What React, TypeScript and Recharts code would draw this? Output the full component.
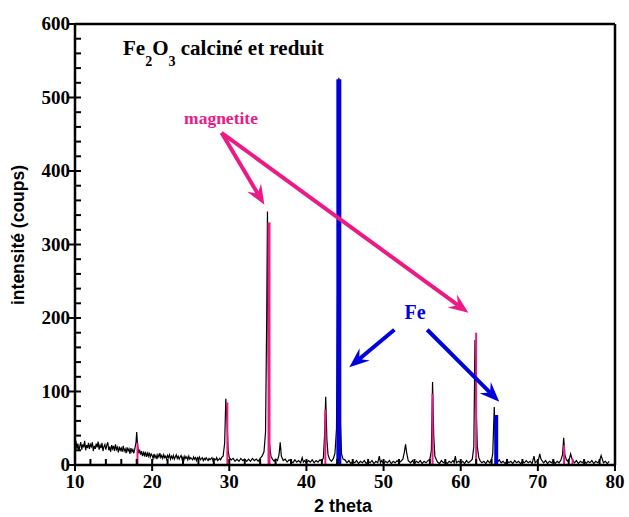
import React from 'react';
import { ComposedChart, Line, XAxis, YAxis, ReferenceLine } from 'recharts';

if (typeof document !== 'undefined') document.body.style.margin = '0';

// measured pattern, [2theta, counts], split by decade
const scan10to20: [number, number][] = [
  [10.0, 27], [10.125, 33], [10.25, 22], [10.375, 29], [10.5, 19], [10.625, 26], [10.75, 31], [10.875, 21],
  [11.0, 28], [11.125, 24], [11.25, 33], [11.375, 20], [11.5, 27], [11.625, 23], [11.75, 30], [11.875, 22],
  [12.0, 28], [12.125, 25], [12.25, 31], [12.375, 19], [12.5, 26], [12.625, 22], [12.75, 29], [12.875, 24],
  [13.0, 32], [13.125, 21], [13.25, 27], [13.375, 23], [13.5, 30], [13.625, 19], [13.75, 25], [13.875, 28],
  [14.0, 21], [14.125, 27], [14.25, 31], [14.375, 20], [14.5, 25], [14.625, 18], [14.75, 27], [14.875, 22],
  [15.0, 26], [15.125, 19], [15.25, 28], [15.375, 21], [15.5, 24], [15.625, 17], [15.75, 25], [15.875, 20],
  [16.0, 23], [16.125, 18], [16.25, 26], [16.375, 19], [16.5, 22], [16.625, 16], [16.75, 24], [16.875, 19],
  [17.0, 22], [17.125, 15], [17.25, 23], [17.375, 18], [17.5, 21], [17.625, 16], [17.75, 22], [17.9, 30],
  [18.0, 45], [18.1, 28], [18.25, 16], [18.375, 21], [18.5, 14], [18.625, 19], [18.75, 12], [18.875, 17],
  [19.0, 13], [19.125, 18], [19.25, 11], [19.375, 16], [19.5, 12], [19.625, 17], [19.75, 11], [19.875, 15],
];
const scan20to30: [number, number][] = [
  [20.0, 13], [20.125, 9], [20.25, 15], [20.375, 10], [20.5, 13], [20.625, 8], [20.75, 14], [20.875, 11],
  [21.0, 16], [21.125, 10], [21.25, 13], [21.375, 9], [21.5, 14], [21.625, 10], [21.75, 12], [21.875, 8],
  [22.0, 13], [22.125, 10], [22.25, 14], [22.375, 8], [22.5, 12], [22.625, 9], [22.75, 13], [22.875, 8],
  [23.0, 11], [23.125, 14], [23.25, 9], [23.375, 12], [23.5, 8], [23.625, 11], [23.75, 13], [23.875, 8],
  [24.0, 11], [24.125, 7], [24.25, 12], [24.375, 9], [24.5, 11], [24.625, 7], [24.75, 12], [24.875, 8],
  [25.0, 10], [25.25, 7], [25.375, 11], [25.5, 8], [25.625, 10], [25.75, 6], [25.875, 10], [26.0, 8],
  [26.125, 11], [26.25, 7], [26.5, 10], [26.625, 6], [26.75, 9], [26.875, 7], [27.0, 10], [27.25, 6],
  [27.375, 9], [27.5, 7], [27.75, 10], [27.875, 6], [28.0, 9], [28.25, 7], [28.375, 10], [28.5, 6],
  [28.75, 9], [28.875, 7], [29.0, 10], [29.2, 12], [29.4, 30], [29.55, 90], [29.7, 60], [29.85, 20],
];
const scan30to40: [number, number][] = [
  [30.0, 10], [30.25, 7], [30.5, 9], [30.75, 5], [31.0, 8], [31.25, 5], [31.5, 9], [31.75, 6],
  [32.0, 8], [32.25, 5], [32.5, 8], [32.75, 5], [33.0, 9], [33.25, 6], [33.5, 8], [33.75, 5],
  [34.0, 9], [34.25, 12], [34.5, 18], [34.7, 45], [34.85, 200], [34.95, 345], [35.05, 150], [35.2, 30],
  [35.4, 12], [35.6, 8], [35.8, 5], [36.0, 8], [36.25, 6], [36.45, 14], [36.6, 31], [36.75, 12],
  [37.0, 6], [37.25, 8], [37.5, 4], [37.75, 7], [38.0, 5], [38.25, 3], [38.5, 7], [38.75, 4],
  [39.0, 6], [39.25, 3], [39.45, 10], [39.6, 4], [39.75, 6],
];
const scan40to50: [number, number][] = [
  [40.0, 3], [40.25, 6], [40.5, 4], [40.75, 7], [41.0, 3], [41.25, 6], [41.5, 4], [41.75, 7],
  [42.0, 5], [42.2, 10], [42.35, 40], [42.5, 93], [42.65, 35], [42.8, 14], [43.0, 8], [43.25, 5],
  [43.5, 9], [43.7, 16], [43.9, 50], [44.05, 250], [44.2, 527], [44.3, 300], [44.4, 60], [44.55, 15],
  [44.75, 8], [45.0, 7], [45.25, 3], [45.5, 6], [45.75, 2], [46.0, 5], [46.25, 3], [46.5, 6],
  [46.75, 2], [47.0, 5], [47.25, 3], [47.5, 6], [47.75, 2], [48.0, 5], [48.25, 3], [48.5, 6],
  [48.75, 2], [49.0, 5], [49.25, 3], [49.45, 12], [49.6, 3], [49.75, 6],
];
const scan50to60: [number, number][] = [
  [50.0, 2], [50.25, 5], [50.5, 3], [50.75, 6], [51.0, 2], [51.25, 5], [51.5, 3], [51.75, 6],
  [52.0, 3], [52.25, 5], [52.5, 8], [52.7, 18], [52.85, 28], [53.0, 16], [53.2, 6], [53.5, 3],
  [53.75, 6], [54.0, 2], [54.25, 5], [54.5, 3], [54.75, 6], [55.0, 2], [55.25, 5], [55.5, 3],
  [55.75, 6], [56.0, 8], [56.2, 20], [56.35, 113], [56.5, 40], [56.65, 12], [56.85, 7], [57.0, 4],
  [57.25, 2], [57.5, 6], [57.75, 3], [58.0, 5], [58.25, 2], [58.5, 5], [58.75, 3], [59.0, 6],
  [59.15, 3], [59.3, 12], [59.45, 3], [59.75, 5],
];
const scan60to70: [number, number][] = [
  [60.0, 3], [60.25, 5], [60.5, 2], [60.75, 6], [61.0, 3], [61.25, 5], [61.5, 8], [61.7, 25],
  [61.85, 170], [62.0, 80], [62.15, 25], [62.35, 10], [62.5, 6], [62.75, 3], [63.0, 5], [63.25, 2],
  [63.5, 6], [63.75, 3], [64.0, 7], [64.15, 15], [64.35, 79], [64.5, 30], [64.65, 10], [64.85, 5],
  [65.0, 7], [65.25, 3], [65.5, 5], [65.75, 2], [66.0, 6], [66.25, 3], [66.5, 5], [66.75, 2],
  [67.0, 6], [67.25, 3], [67.5, 5], [67.75, 2], [68.0, 5], [68.25, 3], [68.5, 6], [68.75, 3],
  [69.0, 5], [69.25, 2], [69.5, 12], [69.65, 3], [69.85, 5],
];
const scan70to80: [number, number][] = [
  [70.1, 8], [70.25, 15], [70.4, 8], [70.6, 5], [70.75, 3], [71.0, 6], [71.25, 2], [71.5, 5],
  [71.75, 3], [72.0, 6], [72.25, 2], [72.5, 5], [72.75, 3], [73.0, 7], [73.2, 14], [73.35, 37],
  [73.5, 14], [73.7, 7], [73.9, 5], [74.1, 9], [74.25, 15], [74.4, 9], [74.6, 5], [74.75, 3],
  [75.0, 6], [75.25, 2], [75.5, 5], [75.75, 3], [76.0, 6], [76.25, 2], [76.5, 5], [76.75, 3],
  [77.0, 6], [77.25, 2], [77.5, 5], [77.75, 3], [78.0, 6], [78.2, 13], [78.35, 8], [78.5, 3],
  [78.75, 5], [79.0, 2], [79.25, 5],
];

// reference sticks
const magnetiteAngles = [18.1, 29.75, 35.15, 42.45, 56.35, 62.0, 73.4, 74.5];
const magnetiteCounts = [30, 85, 330, 75, 97, 180, 27, 8];
const ironAngles = [44.2, 64.6];
const ironCounts = [525, 68];

const xTicks = [10, 12, 14, 16, 18, 20, 22, 24, 26, 28, 30, 32, 34, 36, 38, 40, 42, 44, 46, 48, 50,
  52, 54, 56, 58, 60, 62, 64, 66, 68, 70, 72, 74, 76, 78, 80];
const yTicks = [0, 20, 40, 60, 80, 100, 120, 140, 160, 180, 200, 220, 240, 260, 280, 300, 320, 340,
  360, 380, 400, 420, 440, 460, 480, 500, 520, 540, 560, 580, 600];

const PINK = '#ec1a85';
const BLUE = '#0000dd';
const SERIF = '"Liberation Serif", "Times New Roman", serif';
const SANS = '"Liberation Sans", Arial, sans-serif';

const pattern = [
  ...scan10to20, ...scan20to30, ...scan30to40, ...scan40to50,
  ...scan50to60, ...scan60to70, ...scan70to80,
].map(([angle, count]) => ({ angle, count }));

function XTick(props: any) {
  const { x, y, payload } = props;
  const v = payload.value;
  const major = v % 10 === 0;
  return (
    <g>
      <line x1={x} x2={x} y1={major ? y + 6 : y} y2={y - 6} stroke="#000" strokeWidth={2} />
      {major && (
        <text x={x} y={y + 23} textAnchor="middle" fontFamily={SERIF} fontWeight="bold" fontSize={19} fill="#000">
          {v}
        </text>
      )}
    </g>
  );
}

function YTick(props: any) {
  const { x, y, payload } = props;
  const v = payload.value;
  const major = v % 100 === 0;
  return (
    <g>
      <line x1={major ? x - 6 : x} x2={x + 6} y1={y} y2={y} stroke="#000" strokeWidth={2} />
      {major && (
        <text x={x - 5} y={y + 6} textAnchor="end" fontFamily={SERIF} fontWeight="bold" fontSize={19} fill="#000">
          {v}
        </text>
      )}
    </g>
  );
}

// line with a barbed head at its second point
function arrowShape(color: string) {
  return (props: any) => {
    const { x1, y1, x2, y2 } = props;
    if ([x1, y1, x2, y2].some((n) => typeof n !== 'number' || isNaN(n))) return <g />;
    const len = Math.hypot(x2 - x1, y2 - y1);
    const dx = (x2 - x1) / len;
    const dy = (y2 - y1) / len;
    const L = 20;
    const W = 8;
    const bx = x2 - L * dx;
    const by = y2 - L * dy;
    const nx = x2 - 0.65 * L * dx;
    const ny = y2 - 0.65 * L * dy;
    const pts = [
      [x2, y2],
      [bx - W * dy, by + W * dx],
      [nx, ny],
      [bx + W * dy, by - W * dx],
    ].map((p) => p.join(',')).join(' ');
    return (
      <g>
        <line x1={x1} y1={y1} x2={nx} y2={ny} stroke={color} strokeWidth={4} />
        <polygon points={pts} fill={color} />
      </g>
    );
  };
}

export default function App() {
  return (
    <ComposedChart
      width={629}
      height={517}
      data={pattern}
      margin={{ top: 24, right: 14, bottom: 0, left: 0 }}
    >
      <XAxis
        dataKey="angle"
        type="number"
        domain={[10, 80]}
        ticks={xTicks}
        interval={0}
        height={52}
        tickSize={0}
        tickMargin={0}
        tickLine={false}
        tick={(p: any) => <XTick {...p} />}
        axisLine={{ stroke: '#000', strokeWidth: 2.5 }}
        allowDataOverflow
      />
      <YAxis
        type="number"
        domain={[0, 600]}
        ticks={yTicks}
        interval={0}
        width={75}
        tickSize={0}
        tickMargin={0}
        tickLine={false}
        tick={(p: any) => <YTick {...p} />}
        axisLine={{ stroke: '#000', strokeWidth: 2.5 }}
      />
      <ReferenceLine y={600} stroke="#000" strokeWidth={2.5} />
      <ReferenceLine x={80} stroke="#000" strokeWidth={2.5} />
      <Line
        type="linear"
        dataKey="count"
        stroke="#000"
        strokeWidth={1.2}
        dot={false}
        activeDot={false}
        isAnimationActive={false}
      />
      {magnetiteAngles.map((a, i) => (
        <ReferenceLine
          key={'m' + i}
          segment={[{ x: a, y: 0 }, { x: a, y: magnetiteCounts[i] }]}
          stroke={PINK}
          strokeWidth={magnetiteCounts[i] > 300 ? 3 : 2}
        />
      ))}
      {ironAngles.map((a, i) => (
        <ReferenceLine
          key={'f' + i}
          segment={[{ x: a, y: 0 }, { x: a, y: ironCounts[i] }]}
          stroke={BLUE}
          strokeWidth={ironCounts[i] > 300 ? 5 : 4}
        />
      ))}
      <ReferenceLine segment={[{ x: 29.0, y: 452 }, { x: 34.55, y: 354 }]} shape={arrowShape(PINK)} />
      <ReferenceLine segment={[{ x: 29.0, y: 452 }, { x: 61.0, y: 207 }]} shape={arrowShape(PINK)} />
      <ReferenceLine segment={[{ x: 51.4, y: 184 }, { x: 45.56, y: 133 }]} shape={arrowShape(BLUE)} />
      <ReferenceLine segment={[{ x: 55.66, y: 184 }, { x: 65.0, y: 86 }]} shape={arrowShape(BLUE)} />

      <text x={123} y={55} fontFamily={SERIF} fontWeight="bold" fontSize={21} fill="#000">
        Fe<tspan dy={11} fontSize={14}>2</tspan>
        <tspan dy={-11}>O</tspan>
        <tspan dy={11} fontSize={14}>3</tspan>
        <tspan dy={-11}> calciné et reduit</tspan>
      </text>
      <text x={221} y={124} textAnchor="middle" fontFamily={SERIF} fontWeight="bold" fontSize={17.5} fill={PINK}>
        magnetite
      </text>
      <text x={415} y={319} textAnchor="middle" fontFamily={SERIF} fontWeight="bold" fontSize={20} fill={BLUE}>
        Fe
      </text>
      <text
        x={24}
        y={235}
        transform="rotate(-90 24 235)"
        textAnchor="middle"
        fontFamily={SANS}
        fontWeight="bold"
        fontSize={17.5}
        fill="#000"
      >
        intensité (coups)
      </text>
      <text x={343} y={512} textAnchor="middle" fontFamily={SANS} fontWeight="bold" fontSize={18} fill="#000">
        2 theta
      </text>
    </ComposedChart>
  );
}
